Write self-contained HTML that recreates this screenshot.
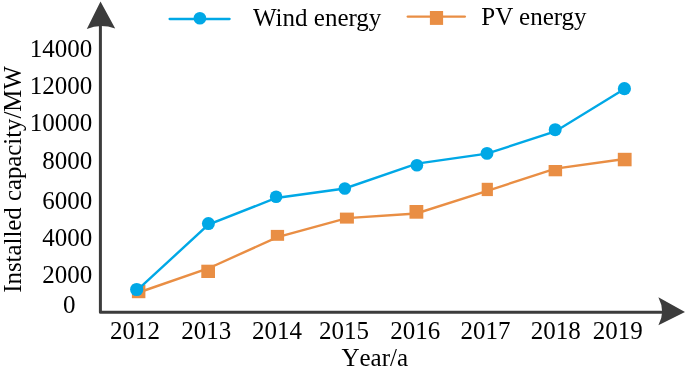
<!DOCTYPE html>
<html><head><meta charset="utf-8">
<style>
html,body{margin:0;padding:0;background:#fff;width:685px;height:374px;overflow:hidden;}
svg{display:block;will-change:transform;}
text{font-family:"Liberation Serif",serif;font-size:25px;fill:#000;}
</style></head>
<body>
<svg width="685" height="374" viewBox="0 0 685 374" xmlns="http://www.w3.org/2000/svg">
<!-- axes -->
<path d="M100.4 22 V312.2 H665" fill="none" stroke="#3c3c3c" stroke-width="3" stroke-linejoin="round"/>
<g fill="#3c3c3c" stroke="none">
<path d="M100.5 1.5 L115.2 28.6 Q100.5 23.5 86.8 28.9 Z"/>
<path d="M685 312 L658.4 297.3 Q665.8 312 658.4 325.2 Z"/>
</g>
<!-- y labels -->
<g text-anchor="end">
<text x="92.2" y="57">14000</text>
<text x="92.2" y="94.3">12000</text>
<text x="92.2" y="131.2">10000</text>
<text x="92.2" y="168.5">8000</text>
<text x="92.2" y="208.6">6000</text>
<text x="92.2" y="245.6">4000</text>
<text x="92.2" y="282.7">2000</text>
<text x="75.5" y="313.2">0</text>
</g>
<text transform="translate(21.4 292.7) rotate(-90)" style="font-size:24.8px">Installed capacity/MW</text>
<!-- x labels -->
<g text-anchor="middle">
<text x="135" y="339.2">2012</text>
<text x="206.2" y="339.2">2013</text>
<text x="277" y="339.2">2014</text>
<text x="344" y="339.2">2015</text>
<text x="415.2" y="339.2">2016</text>
<text x="485.5" y="339.2">2017</text>
<text x="555.8" y="339.2">2018</text>
<text x="617.8" y="339.2">2019</text>
</g>
<text x="341.4" y="365.8" style="font-kerning:none">Year/a</text>
<!-- legend -->
<line x1="169.6" y1="19" x2="229.6" y2="19" stroke="#00a8e6" stroke-width="2.3" stroke-linecap="round"/>
<circle cx="199.9" cy="18.2" r="6.3" fill="#00a8e6"/>
<text x="253" y="25.5">Wind energy</text>
<line x1="407.8" y1="16.6" x2="464.8" y2="16.6" stroke="#e98e44" stroke-width="2.4" stroke-linecap="round"/>
<rect x="429.9" y="11" width="13.2" height="13.9" fill="#e98e44"/>
<text x="481.3" y="24.9">PV energy</text>
<!-- PV series -->
<polyline fill="none" stroke="#e98e44" stroke-width="2.4" points="138.6,292.5 208.2,268.5 277.5,237.1 346.9,218.1 416.4,213.5 487.3,190.8 555.4,168.6 624.7,159"/>
<g fill="#e98e44">
<rect x="131.9" y="284.7" width="13.5" height="13.5"/>
<rect x="201.3" y="264.7" width="13.7" height="13.3"/>
<rect x="270.8" y="229.9" width="13.3" height="10.9"/>
<rect x="339.9" y="212.6" width="14" height="11"/>
<rect x="409.5" y="205" width="13.8" height="13.7"/>
<rect x="481.7" y="182.8" width="11.2" height="13.3"/>
<rect x="548.6" y="165" width="13.5" height="11.3"/>
<rect x="617.8" y="152.8" width="13.8" height="13.5"/>
</g>
<!-- Wind series -->
<polyline fill="none" stroke="#00a8e6" stroke-width="2.4" points="136.7,290.7 208.4,224.6 276.1,198 344.8,188.5 416.9,163.6 487,153.7 555.2,131.4 624.4,88.9"/>
<g fill="#00a8e6">
<circle cx="136.7" cy="289.5" r="6.6"/>
<circle cx="208.4" cy="223.6" r="6.5"/>
<circle cx="276.1" cy="196.7" r="6.3"/>
<circle cx="344.8" cy="188.5" r="6.3"/>
<circle cx="416.9" cy="165.2" r="6.3"/>
<circle cx="487" cy="153.4" r="6.4"/>
<circle cx="555.2" cy="129.7" r="6.5"/>
<circle cx="624.4" cy="88.7" r="6.6"/>
</g>
</svg>
</body></html>
